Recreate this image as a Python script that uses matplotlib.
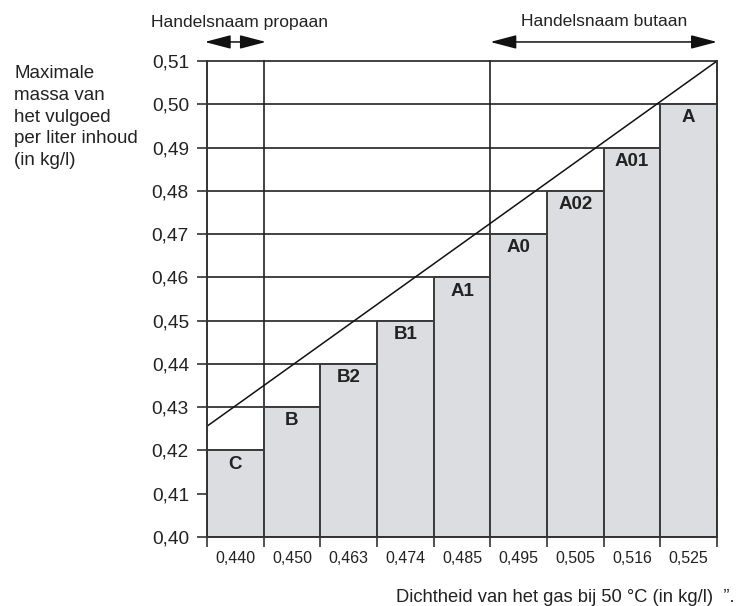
import matplotlib
matplotlib.use("Agg")
import matplotlib.pyplot as plt
import numpy as np

plt.rcParams['font.family'] = ['Liberation Sans', 'DejaVu Sans']

categories = ["C", "B", "B2", "B1", "A1", "A0", "A02", "A01", "A"]
densities = ["0,440", "0,450", "0,463", "0,474", "0,485", "0,495", "0,505", "0,516", "0,525"]
max_mass = [0.42, 0.43, 0.44, 0.45, 0.46, 0.47, 0.48, 0.49, 0.50]
yticks = [0.40, 0.41, 0.42, 0.43, 0.44, 0.45, 0.46, 0.47, 0.48, 0.49, 0.50, 0.51]
ytick_labels = ["0,40", "0,41", "0,42", "0,43", "0,44", "0,45", "0,46", "0,47", "0,48", "0,49", "0,50", "0,51"]
diag_start = 0.4256
diag_end = 0.51

fig = plt.figure(figsize=(7.42, 6.06), dpi=100)
ax = fig.add_axes([207/742, 1 - 537/606, 510/742, 476/606])

x = np.arange(len(categories))
n = len(categories)
ax.set_xlim(-0.5, n - 0.5)
ax.set_ylim(0.40, 0.51)

# grid lines
for yv in yticks[1:]:
    ax.plot([-0.5, n - 0.5], [yv, yv], color="#222222", lw=1.2, zorder=1, clip_on=False)
# vertical separators
for xv in [0.5, 4.5]:
    ax.plot([xv, xv], [0.40, 0.51], color="#222222", lw=1.2, zorder=1, clip_on=False)

ax.bar(x, [v - 0.40 for v in max_mass], bottom=0.40, width=1.0,
       color="#dcdde0", edgecolor="#3a3a3a", linewidth=1.4, zorder=2)

for xi, v, lab in zip(x, max_mass, categories):
    ax.text(xi, v - 0.0012, lab, ha="center", va="top", fontsize=13.5,
            fontweight="bold", color="#222222", zorder=4)

ax.plot([-0.5, n - 0.5], [diag_start, diag_end], color="#111111", lw=1.1, zorder=3)

for s in ["top"]:
    ax.spines[s].set_visible(False)
for s in ["left", "bottom", "right"]:
    ax.spines[s].set_color("#333333")
    ax.spines[s].set_linewidth(1.4)
    ax.spines[s].set_zorder(5)

ax.set_yticks(yticks)
ax.set_yticklabels(ytick_labels, fontsize=13.8, color="#222222")
ax.tick_params(axis="y", length=7, width=1.2, color="#333333", pad=6)

ax.set_xticks(np.arange(-0.5, n, 1.0))
ax.set_xticklabels([])
ax.set_xticks(x, minor=True)
ax.set_xticklabels(densities, minor=True, fontsize=11.5, color="#222222")
ax.tick_params(axis="x", which="major", length=7, width=1.2, color="#333333")
ax.tick_params(axis="x", which="minor", length=0, pad=10)

fig.text(14/742, 1 - 65/606, "Maximale\nmassa van\nhet vulgoed\nper liter inhoud\n(in kg/l)",
         ha="left", va="top", fontsize=13.5, color="#222222", linespacing=1.37)
fig.text(735/742, 1 - 598/606, "Dichtheid van het gas bij 50 °C (in kg/l)  \u201d.",
         ha="right", va="center", fontsize=13.2, color="#222222")

# top annotations
arrow_y = 0.5144
astyle = "<|-|>,head_length=1.6,head_width=0.42"
ax.annotate("", xy=(-0.54, arrow_y), xytext=(0.54, arrow_y),
            arrowprops=dict(arrowstyle=astyle, color="#111111", lw=1.1,
                            shrinkA=0, shrinkB=0),
            annotation_clip=False)
ax.annotate("", xy=(4.5, arrow_y), xytext=(8.5, arrow_y),
            arrowprops=dict(arrowstyle=astyle, color="#111111", lw=1.1,
                            shrinkA=0, shrinkB=0),
            annotation_clip=False)
fig.text(240/742, 1 - 23/606, "Handelsnaam propaan", ha="center", va="center",
         fontsize=12.6, color="#222222")
fig.text(604/742, 1 - 22/606, "Handelsnaam butaan", ha="center", va="center",
         fontsize=12.6, color="#222222")

fig.savefig("out.png", dpi=100)
